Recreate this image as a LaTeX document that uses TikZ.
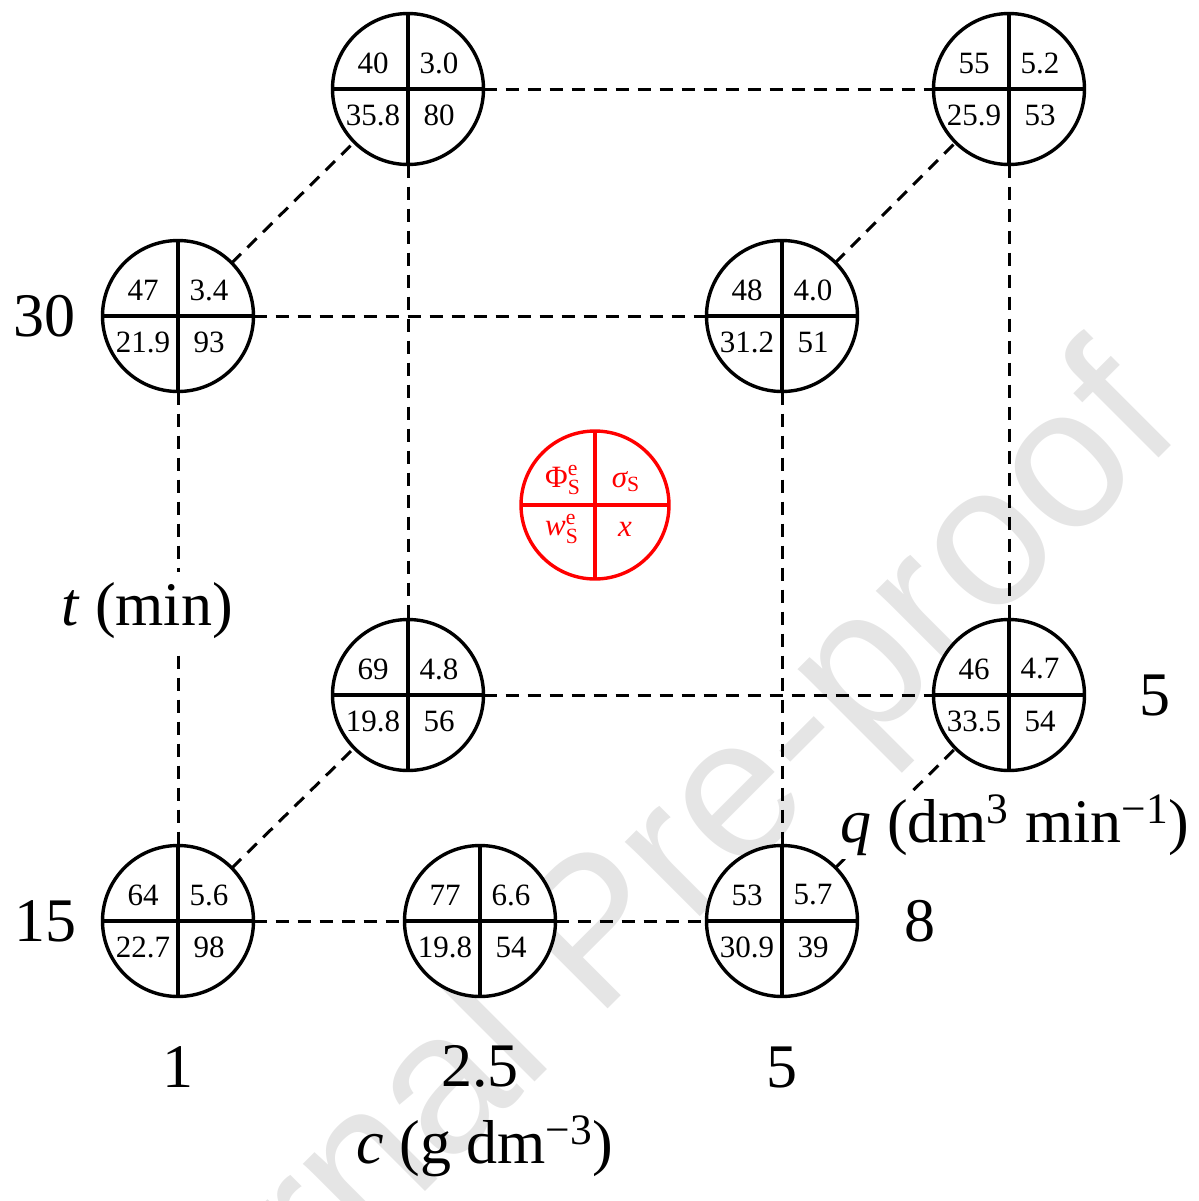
\documentclass[tikz,border=0pt]{standalone}
\usepackage{fontspec}
\usepackage{amsmath}
\setmainfont{Liberation Serif}
\newfontfamily\wmfont{Liberation Sans}
\newcommand\qcirc[8]{%
  \node[cnode, draw=#8] (#1) at (#2,#3) {};
  \draw[divline, draw=#8] (#1.north) -- (#1.south) (#1.west) -- (#1.east);
  \node[qtxt, text=#8] at ([shift={(-35,-26)}]#1.center) {#4};
  \node[qtxt, text=#8] at ([shift={(31,-26)}]#1.center) {#5};
  \node[qtxt, text=#8] at ([shift={(-35,26)}]#1.center) {#6};
  \node[qtxt, text=#8] at ([shift={(31,26)}]#1.center) {#7};
}
\begin{document}
\begin{tikzpicture}[x=0.5pt,y=-0.5pt,
  cnode/.style={circle, line width=1.7pt, fill=white, minimum size=75.5pt, inner sep=0pt, outer sep=0pt},
  divline/.style={line width=1.7pt},
  qtxt/.style={font=\fontsize{15.5pt}{18pt}\selectfont, inner sep=0pt},
  biglab/.style={font=\fontsize{31pt}{36pt}\selectfont, inner sep=0pt},
  dline/.style={line width=1.5pt, dash pattern=on 6.5pt off 4.5pt},
  labbox/.style={biglab, fill=white, inner sep=2pt}]
\path[use as bounding box] (0,0) rectangle (1199,1201);
% watermark
\begin{scope}
\clip (0,0) rectangle (1199,1201);
\node[rotate=45, anchor=base west, inner sep=0pt, text=gray!20,
      font=\wmfont\fontsize{100pt}{100pt}\selectfont] (wm) at (93,1524) {Journal Pre-proof};
\end{scope}
% circles
\qcirc{tbl}{408}{89}{40}{3.0}{35.8}{80}{black}
\qcirc{tbr}{1009}{89}{55}{5.2}{25.9}{53}{black}
\qcirc{tfl}{178}{316}{47}{3.4}{21.9}{93}{black}
\qcirc{tfr}{782}{316}{48}{4.0}{31.2}{51}{black}
\qcirc{mbl}{408}{695}{69}{4.8}{19.8}{56}{black}
\qcirc{mbr}{1009}{695}{46}{4.7}{33.5}{54}{black}
\qcirc{bfl}{178}{921}{64}{5.6}{22.7}{98}{black}
\qcirc{bfm}{480}{921}{77}{6.6}{19.8}{54}{black}
\qcirc{bfr}{782}{921}{53}{5.7}{30.9}{39}{black}
% legend
\node[cnode, draw=red, minimum size=74pt] (leg) at (595,505) {};
\draw[divline, draw=red] (leg.north) -- (leg.south) (leg.west) -- (leg.east);
\node[qtxt, text=red, anchor=base] at ([shift={(-32,-18)}]leg.center) {$\text{Φ}^{\text{e}}_{\text{S}}$};
\node[qtxt, text=red, anchor=base] at ([shift={(31,-18)}]leg.center) {$\textit{σ}_{\text{S}}$};
\node[qtxt, text=red, anchor=base] at ([shift={(-33,30)}]leg.center) {$\textit{w}^{\text{e}}_{\text{S}}$};
\node[qtxt, text=red, anchor=base] at ([shift={(30,31)}]leg.center) {\textit{x}};
% connectors
\draw[dline] (tbl) -- (tbr);
\draw[dline] (tfl) -- (tfr);
\draw[dline] (tfl) -- (tbl);
\draw[dline] (tfr) -- (tbr);
\draw[dline] (tfl) -- (bfl);
\draw[dline] (tbl) -- (mbl);
\draw[dline] (tfr) -- (bfr);
\draw[dline] (tbr) -- (mbr);
\draw[dline] (mbl) -- (mbr);
\draw[dline] (bfl) -- (mbl);
\draw[dline] (bfr) -- (mbr);
\draw[dline] (bfl) -- (bfm);
\draw[dline] (bfm) -- (bfr);
% axis labels
\node[biglab] (l30) at (44,316) {30};
\node[biglab] (l15) at (46,921) {15};
\node[biglab] (l1) at (178,1067) {1};
\node[biglab] (l25) at (480,1066) {2.5};
\node[biglab] (l5a) at (782,1067) {5};
\node[biglab] (l8) at (920,921) {8};
\node[biglab] (l5b) at (1155,695) {5};
\node[labbox, anchor=base, inner sep=5pt] (tlab) at (147,625) {\textit{t} (min)};
\node[labbox, anchor=base] (qlab) at (1015,842) {\textit{q} (dm\textsuperscript{3} min\textsuperscript{−1})};
\node[biglab, anchor=base] (clab) at (485,1163) {\textit{c} (g dm\textsuperscript{−3})};
\end{tikzpicture}
\end{document}
